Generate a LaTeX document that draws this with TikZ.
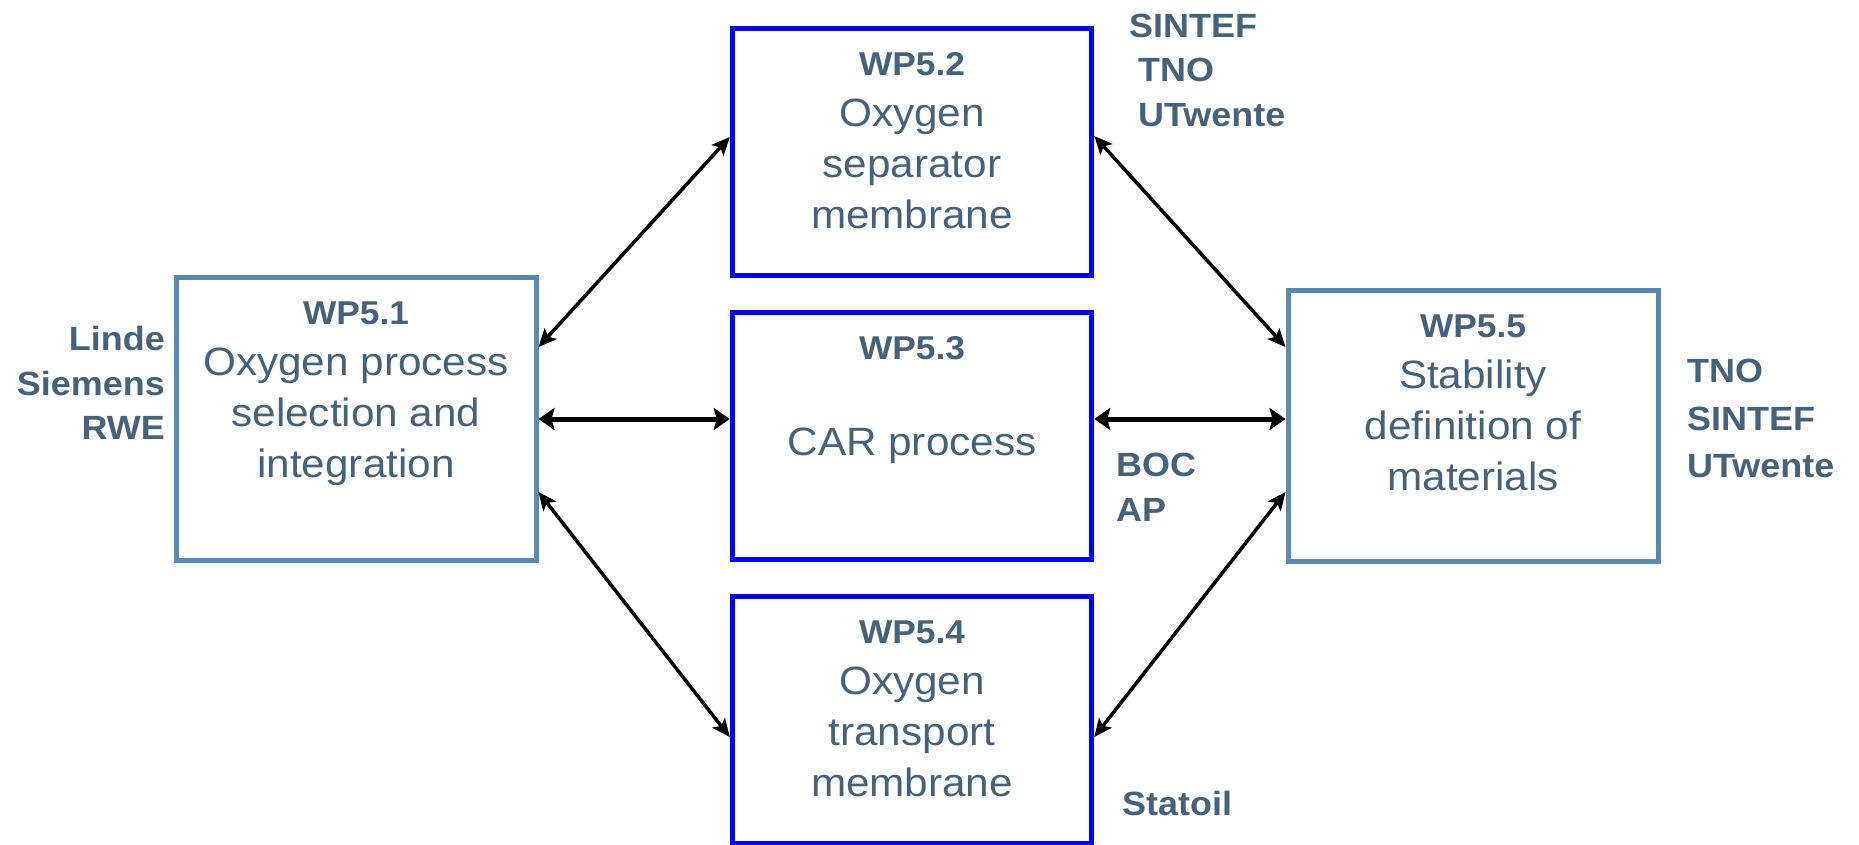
\documentclass[tikz,border=0pt]{standalone}
\usepackage{fontspec}
\setmainfont[FakeStretch=1.07]{Liberation Sans}
\usetikzlibrary{arrows.meta,positioning}

\definecolor{wpblue}{RGB}{0,0,255}
\definecolor{wpsteel}{RGB}{88,139,180}
\definecolor{wptext}{RGB}{69,98,125}

\begin{document}
\begin{tikzpicture}[x=1pt,y=-1pt,node distance=284pt,on grid,
    >={Stealth[length=18pt,width=16pt,inset=4pt]},
    wp/.style={draw=wpblue,line width=5.5pt,minimum width=359pt,minimum height=247pt,inner sep=0pt},
    wpside/.style={draw=wpsteel,line width=5pt,inner sep=0pt},
    wptxt/.style={text=wptext,align=center,inner sep=0pt,anchor=north,font=\fontsize{39.5}{51}\selectfont},
    partner/.style={text=wptext,inner sep=0pt,font=\fontsize{33.6}{44.5}\selectfont\bfseries},
    link/.style={<->,line width=3.5pt},
    mainlink/.style={<->,line width=5pt,>={Stealth[length=16pt,width=22pt,inset=3pt]}}]
  \useasboundingbox (0,0) rectangle (1859,845);

  % work packages
  \node[wp] (wp3) at (912,436) {};
  \node[wp] (wp2) [above=of wp3] {};
  \node[wp] (wp4) [below=of wp3] {};
  \node[wpside,minimum width=360pt,minimum height=283.5pt] (wp1) [left=556pt of wp3,yshift=17pt] {};
  \node[wpside,minimum width=370pt,minimum height=270.5pt] (wp5) [right=561pt of wp3,yshift=10pt] {};

  \node[wptxt] (wp1txt) at ([yshift=-27pt]wp1.north) {{\fontsize{33}{51}\selectfont\bfseries WP5.1}\\Oxygen process\\selection and\\integration};
  \node[wptxt] (wp2txt) at ([yshift=-27pt]wp2.north) {{\fontsize{33}{51}\selectfont\bfseries WP5.2}\\Oxygen\\separator\\membrane};
  \node[wptxt] (wp3txt) at ([yshift=-27pt]wp3.north) {{\fontsize{33}{51}\selectfont\bfseries WP5.3}\\[45pt]CAR process};
  \node[wptxt] (wp4txt) at ([yshift=-27pt]wp4.north) {{\fontsize{33}{51}\selectfont\bfseries WP5.4}\\Oxygen\\transport\\membrane};
  \node[wptxt] (wp5txt) at ([yshift=-26pt]wp5.north) {{\fontsize{33}{51}\selectfont\bfseries WP5.5}\\Stability\\definition of\\materials};

  % partners
  \node[partner,align=right,anchor=north east] (p1) at (165,326) {Linde\\Siemens\\RWE};
  \node[partner,align=left,anchor=north west] (p2) at (1129,13.5) {SINTEF\\\hspace*{9pt}TNO\\\hspace*{9pt}UTwente};
  \node[partner,align=left,anchor=north west] (p3) at (1116,453) {BOC\\AP};
  \node[partner,anchor=north west] (p4) at (1122,791) {Statoil};
  \node[partner,align=left,anchor=north west,font=\fontsize{33.6}{47.5}\selectfont\bfseries] (p5) at (1687,359) {TNO\\SINTEF\\UTwente};

  % links
  \draw[link] ([yshift=72pt]wp1.east) -- ([yshift=15pt]wp2.west);
  \draw[mainlink] (wp1.east) -- (wp1.east -| wp3.west);
  \draw[link] ([yshift=-73pt]wp1.east) -- ([yshift=-17pt]wp4.west);
  \draw[link] ([yshift=16pt]wp2.east) -- ([yshift=79pt]wp5.west);
  \draw[mainlink] ([yshift=17pt]wp3.east) -- ([yshift=17pt]wp3.east -| wp5.west);
  \draw[link] ([yshift=-17pt]wp4.east) -- ([yshift=-66pt]wp5.west);
\end{tikzpicture}
\end{document}
